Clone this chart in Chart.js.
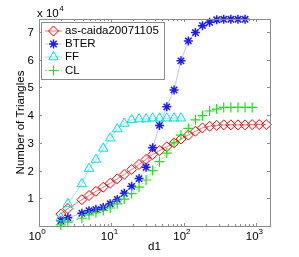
<!DOCTYPE html>
<html>
<head>
<meta charset="utf-8">
<title>Number of Triangles vs d1</title>
<script src="https://cdn.jsdelivr.net/npm/chart.js@4.4.1/dist/chart.umd.min.js"></script>
<style>
  body { margin: 0; background: #ffffff; }
  #wrap { width: 299px; height: 257px; }
</style>
</head>
<body>
<div id="wrap"><canvas id="triChart" width="299" height="257"></canvas></div>
<script>
// d1 bins (log spaced)
const d1 = [2, 2.5, 3.9, 4.9, 6.1, 7.7, 9.6, 12, 15, 19, 24, 30, 37, 46, 58, 73, 91,
            115, 144, 180, 226, 283, 354, 444, 556, 697, 873, 1093, 1369];

// number of triangles, in units of 10^4
const asCaida = [0.43, 0.63, 0.95, 1.10, 1.25, 1.40, 1.54, 1.70, 1.86, 2.04, 2.22, 2.40, 2.58,
                 2.72, 2.86, 3.00, 3.14, 3.28, 3.42, 3.54, 3.60, 3.63, 3.65, 3.65, 3.65, 3.65,
                 3.66, 3.66, 3.66];
const bter = [0.19, 0.30, 0.46, 0.55, 0.60, 0.67, 0.80, 0.96, 1.18, 1.43, 1.71, 2.12, 2.82,
              3.63, 4.30, 4.91, 5.96, 6.68, 6.98, 7.23, 7.35, 7.44, 7.46, 7.46, 7.46, 7.46];
const ff = [0.29, 0.80, 1.52, 2.07, 2.40, 2.80, 3.17, 3.50, 3.70, 3.83, 3.86, 3.86, 3.89,
            3.89, 3.89, 3.89, 3.89];
const cl = [0.04, 0.14, 0.28, 0.40, 0.48, 0.56, 0.65, 0.80, 0.97, 1.17, 1.40, 1.66, 2.00,
            2.32, 2.63, 3.00, 3.28, 3.52, 3.83, 3.98, 4.15, 4.22, 4.28, 4.28, 4.28, 4.28, 4.28];

const seriesNames = ['as-caida20071105', 'BTER', 'FF', 'CL'];
const xTickLabels = ['0', '1', '2', '3'];   // exponents of 10
const yTickLabels = ['1', '2', '3', '4', '5', '6', '7'];

// marker / line styles, MATLAB look
const styles = [
    { line: 'rgba(255,0,0,0.55)', mark: '#ff0000', shape: 'rectRot', r: 5, w: 1, dash: [] },
    { line: 'rgba(80,80,255,0.35)', mark: '#1a1aff', shape: 'star', r: 4.5, w: 1.5, dash: [] },
    { line: 'rgba(0,220,220,0.45)', mark: '#00e0e0', shape: 'triangle', r: 5.5, w: 1, dash: [] },
    { line: 'rgba(0,210,0,0.5)', mark: '#22dd22', shape: 'cross', r: 5, w: 1.2, dash: [2, 2] }
];

const FONT = '"Liberation Sans", Arial, Helvetica, sans-serif';

function toPoints(ys) {
    return ys.map((v, i) => ({ x: d1[i], y: v }));
}

const allSeries = [asCaida, bter, ff, cl];

const datasets = allSeries.map((ys, i) => ({
    label: seriesNames[i],
    data: toPoints(ys),
    borderColor: styles[i].line,
    borderWidth: 1,
    borderDash: styles[i].dash,
    pointStyle: styles[i].shape,
    pointRadius: styles[i].r,
    pointBorderColor: styles[i].mark,
    pointBackgroundColor: 'rgba(0,0,0,0)',
    pointBorderWidth: styles[i].w,
    tension: 0,
    clip: false,
    order: 4 - i   // later series on top, like MATLAB
}));

// draws the box, ticks, labels and legend
const matlabAxes = {
    id: 'matlabAxes',
    afterDraw(chart) {
        const ctx = chart.ctx;
        const a = chart.chartArea;
        const xs = chart.scales.x;
        const ys = chart.scales.y;
        ctx.save();

        // box
        ctx.strokeStyle = '#8c8c8c';
        ctx.lineWidth = 1;
        ctx.strokeRect(a.left + 0.5, a.top + 0.5, a.right - a.left, a.bottom - a.top);

        // y ticks
        ctx.fillStyle = '#000';
        ctx.font = '11.5px ' + FONT;
        ctx.textAlign = 'right';
        ctx.textBaseline = 'middle';
        yTickLabels.forEach(lbl => {
            const py = Math.round(ys.getPixelForValue(Number(lbl))) + 0.5;
            ctx.beginPath();
            ctx.moveTo(a.left, py); ctx.lineTo(a.left + 3, py);
            ctx.moveTo(a.right, py); ctx.lineTo(a.right - 3, py);
            ctx.stroke();
            ctx.fillText(lbl, a.left - 5, py);
        });

        // x ticks (major + minor)
        for (let e = 0; e <= 3; e++) {
            for (let m = 1; m <= 9; m++) {
                const v = m * Math.pow(10, e);
                if (v < xs.min || v > xs.max) continue;
                const px = Math.round(xs.getPixelForValue(v)) + 0.5;
                const len = m === 1 ? 3 : 2;
                ctx.beginPath();
                ctx.moveTo(px, a.bottom); ctx.lineTo(px, a.bottom - len);
                ctx.moveTo(px, a.top); ctx.lineTo(px, a.top + len);
                ctx.stroke();
            }
        }
        xTickLabels.forEach(ex => {
            const px = xs.getPixelForValue(Math.pow(10, Number(ex)));
            ctx.font = '11.5px ' + FONT;
            const w1 = ctx.measureText('10').width;
            ctx.font = '8px ' + FONT;
            const w2 = ctx.measureText(ex).width;
            const x0 = px - 2 - (w1 + w2) / 2;
            ctx.textAlign = 'left';
            ctx.textBaseline = 'middle';
            ctx.font = '11.5px ' + FONT;
            ctx.fillText('10', x0, 236.5);
            ctx.font = '8px ' + FONT;
            ctx.fillText(ex, x0 + w1, 231.5);
        });

        // exponent of y axis
        ctx.font = '11.5px ' + FONT;
        ctx.textAlign = 'left';
        ctx.textBaseline = 'middle';
        ctx.fillText('x 10', 37, 13.5);
        const wx = ctx.measureText('x 10').width;
        ctx.font = '8px ' + FONT;
        ctx.fillText('4', 37 + wx + 0.5, 8.5);

        // axis titles
        ctx.font = '11.5px ' + FONT;
        ctx.textAlign = 'center';
        ctx.fillText('d1', (a.left + a.right) / 2, 247);
        ctx.save();
        ctx.translate(21, (a.top + a.bottom) / 2);
        ctx.rotate(-Math.PI / 2);
        ctx.fillText('Number of Triangles', 0, 0);
        ctx.restore();

        // legend
        const lx = 41, ly = 22, lw = 123, lh = 57;
        ctx.fillStyle = '#fff';
        ctx.fillRect(lx, ly, lw, lh);
        ctx.strokeStyle = '#8c8c8c';
        ctx.strokeRect(lx + 0.5, ly + 0.5, lw, lh);
        const rows = [31, 44, 57, 70.5];
        seriesNames.forEach((name, i) => {
            const s = styles[i];
            const yy = rows[i];
            ctx.strokeStyle = s.line;
            ctx.lineWidth = 1;
            ctx.setLineDash(s.dash);
            ctx.beginPath();
            ctx.moveTo(45, yy); ctx.lineTo(62, yy);
            ctx.stroke();
            ctx.setLineDash([]);
            ctx.strokeStyle = s.mark;
            ctx.fillStyle = 'rgba(0,0,0,0)';
            ctx.lineWidth = s.w;
            Chart.helpers.drawPoint(ctx, { pointStyle: s.shape, radius: s.r, rotation: 0, borderWidth: s.w }, 53.5, yy);
            ctx.fillStyle = '#000';
            ctx.font = '11.5px ' + FONT;
            ctx.textAlign = 'left';
            ctx.textBaseline = 'middle';
            ctx.fillText(name, 65, yy);
        });

        ctx.restore();
    }
};

const ctx = document.getElementById('triChart').getContext('2d');
new Chart(ctx, {
    type: 'line',
    data: { datasets: datasets },
    options: {
        responsive: false,
        animation: false,
        layout: { padding: { left: 39, top: 19, right: 29, bottom: 31 } },
        scales: {
            x: { type: 'logarithmic', min: 1, max: 1540, display: false },
            y: { type: 'linear', min: 0, max: 7.47, display: false }
        },
        plugins: {
            legend: { display: false },
            tooltip: { enabled: false }
        }
    },
    plugins: [matlabAxes]
});
</script>
</body>
</html>
